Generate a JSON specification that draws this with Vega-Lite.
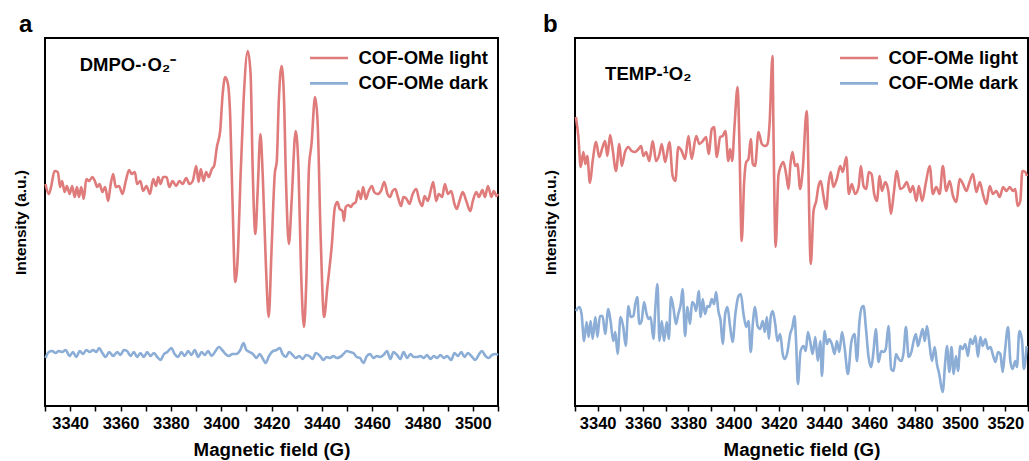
{
  "$schema": "https://vega.github.io/schema/vega-lite/v6.json",
  "background": "white",
  "padding": {"left": 12, "top": 12, "right": 0, "bottom": 0},
  "config": {
    "font": "Liberation Sans",
    "view": {"stroke": "black", "strokeWidth": 2},
    "axisY": {"labels": false, "ticks": false, "domain": false, "grid": false, "titleFontSize": 15.5, "titleFontWeight": "bold", "titleColor": "black", "titlePadding": 17},
    "axisX": {"labelExpr": "datum.value % 20 == 0 ? format(datum.value, 'd') : ''", "labelOverlap": false, "tickCount": 100, "tickSize": 5, "tickWidth": 1.5, "tickColor": "black", "domain": false, "grid": false, "labelFontSize": 16.5, "labelFontWeight": "bold", "labelColor": "black", "labelPadding": 4, "labelFlush": false, "titleFontSize": 18.7, "titleFontWeight": "bold", "titleColor": "black", "titlePadding": 9},
    "legend": {"orient": "top-right", "title": null, "symbolType": "M-2,0H2", "symbolSize": 361, "symbolStrokeWidth": 2.6, "labelFontSize": 18.5, "labelFontWeight": "bold", "labelColor": "black", "labelOffset": 18.5, "rowPadding": 4.4, "offset": 9, "padding": 0},
    "title": {"anchor": "start", "frame": "group", "fontSize": 24, "fontWeight": "bold", "color": "black", "offset": 1, "baseline": "alphabetic"}
  },
  "spacing": 77,
  "bounds": "flush",
  "resolve": {"scale": {"color": "independent", "x": "independent", "y": "independent"}, "legend": {"color": "independent"}},
  "datasets": {
    "aLight": [
      {"x":3330.2,"y":222},{"x":3331.5,"y":212},{"x":3332.4,"y":219},{"x":3333.8,"y":235},{"x":3335.1,"y":234},{"x":3336.0,"y":219},{"x":3336.8,"y":225},{"x":3337.8,"y":214},{"x":3338.7,"y":220},{"x":3339.8,"y":212},{"x":3340.8,"y":220},{"x":3341.8,"y":209},{"x":3342.7,"y":219},{"x":3343.5,"y":209},{"x":3344.4,"y":219},{"x":3345.4,"y":207},{"x":3346.4,"y":227},{"x":3347.5,"y":225},{"x":3348.8,"y":229},{"x":3349.8,"y":225},{"x":3350.7,"y":219},{"x":3351.7,"y":222},{"x":3352.8,"y":214},{"x":3353.9,"y":219},{"x":3355.1,"y":205},{"x":3356.0,"y":220},{"x":3357.1,"y":232},{"x":3358.1,"y":219},{"x":3359.4,"y":220},{"x":3360.8,"y":212},{"x":3362.1,"y":225},{"x":3363.4,"y":236},{"x":3364.5,"y":232},{"x":3365.7,"y":234},{"x":3366.6,"y":222},{"x":3367.9,"y":225},{"x":3369.0,"y":215},{"x":3370.3,"y":220},{"x":3371.7,"y":212},{"x":3373.0,"y":227},{"x":3374.1,"y":220},{"x":3375.0,"y":229},{"x":3375.9,"y":222},{"x":3377.0,"y":229},{"x":3378.3,"y":229},{"x":3379.4,"y":219},{"x":3380.7,"y":225},{"x":3382.1,"y":220},{"x":3383.4,"y":225},{"x":3384.7,"y":222},{"x":3386.1,"y":228},{"x":3387.4,"y":222},{"x":3388.7,"y":225},{"x":3390.1,"y":240},{"x":3391.0,"y":224},{"x":3391.9,"y":237},{"x":3393.0,"y":225},{"x":3394.0,"y":234},{"x":3395.1,"y":229},{"x":3396.3,"y":237},{"x":3397.2,"y":240},
      {"x":3398.3,"y":259},{"x":3399.6,"y":275},{"x":3400.6,"y":312},{"x":3401.6,"y":329},{"x":3402.7,"y":322},{"x":3403.6,"y":289},{"x":3404.5,"y":205},{"x":3405.6,"y":124},{"x":3406.7,"y":155},{"x":3407.6,"y":222},{"x":3408.9,"y":305},{"x":3410.6,"y":355},{"x":3411.7,"y":332},{"x":3412.5,"y":239},{"x":3413.6,"y":172},{"x":3414.5,"y":215},{"x":3415.6,"y":272},{"x":3416.5,"y":232},{"x":3417.8,"y":139},{"x":3418.9,"y":89},{"x":3420.0,"y":155},{"x":3421.3,"y":232},{"x":3422.1,"y":245},{"x":3422.9,"y":305},{"x":3424.0,"y":340},{"x":3424.9,"y":312},{"x":3425.8,"y":222},{"x":3426.9,"y":162},{"x":3428.0,"y":205},{"x":3429.6,"y":275},{"x":3430.7,"y":239},{"x":3431.7,"y":139},{"x":3432.9,"y":79},{"x":3433.8,"y":122},{"x":3434.9,"y":239},{"x":3435.9,"y":262},{"x":3437.3,"y":309},{"x":3438.3,"y":285},{"x":3439.5,"y":172},{"x":3440.9,"y":89},{"x":3442.2,"y":119},{"x":3443.9,"y":159},
      {"x":3445.2,"y":199},{"x":3446.2,"y":204},{"x":3447.1,"y":197},{"x":3448.2,"y":195},{"x":3448.8,"y":185},{"x":3449.5,"y":199},{"x":3450.6,"y":201},{"x":3451.5,"y":199},{"x":3452.4,"y":202},{"x":3453.5,"y":204},{"x":3454.5,"y":215},{"x":3455.5,"y":207},{"x":3456.4,"y":219},{"x":3457.5,"y":207},{"x":3458.5,"y":214},{"x":3459.9,"y":220},{"x":3460.8,"y":214},{"x":3462.1,"y":212},{"x":3463.5,"y":215},{"x":3464.8,"y":224},{"x":3466.1,"y":212},{"x":3467.1,"y":209},{"x":3468.1,"y":215},{"x":3469.2,"y":217},{"x":3470.1,"y":210},{"x":3471.5,"y":200},{"x":3472.4,"y":209},{"x":3473.7,"y":207},{"x":3474.8,"y":202},{"x":3476.1,"y":212},{"x":3477.5,"y":217},{"x":3478.8,"y":205},{"x":3479.9,"y":200},{"x":3480.8,"y":210},{"x":3482.1,"y":205},{"x":3483.4,"y":217},{"x":3484.3,"y":224},{"x":3485.4,"y":205},{"x":3486.5,"y":212},{"x":3487.8,"y":209},{"x":3488.9,"y":222},{"x":3490.1,"y":212},{"x":3491.4,"y":215},{"x":3492.7,"y":202},{"x":3493.6,"y":197},{"x":3494.7,"y":205},{"x":3496.0,"y":214},{"x":3497.4,"y":205},{"x":3499.0,"y":195},{"x":3500.0,"y":205},{"x":3501.4,"y":214},{"x":3502.4,"y":209},{"x":3503.8,"y":216},{"x":3504.8,"y":209},{"x":3506.0,"y":220},{"x":3507.4,"y":209},{"x":3508.3,"y":215},{"x":3509.4,"y":210},{"x":3510.0,"y":212}
    ],
    "aDark": [
      {"x":3330.2,"y":48},{"x":3331.5,"y":54},{"x":3332.8,"y":55},{"x":3334.2,"y":53},{"x":3335.5,"y":55},{"x":3336.8,"y":54},{"x":3338.2,"y":56},{"x":3339.8,"y":50},{"x":3341.1,"y":54},{"x":3342.4,"y":49},{"x":3343.8,"y":55},{"x":3345.1,"y":52},{"x":3346.4,"y":56},{"x":3347.8,"y":54},{"x":3349.1,"y":56},{"x":3350.4,"y":54},{"x":3351.5,"y":58},{"x":3352.8,"y":53},{"x":3354.1,"y":49},{"x":3355.5,"y":54},{"x":3357.1,"y":50},{"x":3358.7,"y":54},{"x":3360.0,"y":51},{"x":3361.3,"y":56},{"x":3362.6,"y":55},{"x":3364.0,"y":50},{"x":3365.3,"y":54},{"x":3366.6,"y":49},{"x":3367.9,"y":53},{"x":3369.3,"y":49},{"x":3370.6,"y":54},{"x":3371.9,"y":50},{"x":3373.3,"y":53},{"x":3374.6,"y":49},{"x":3375.9,"y":46},{"x":3377.3,"y":52},{"x":3378.6,"y":54},{"x":3380.2,"y":58},{"x":3381.5,"y":52},{"x":3382.9,"y":49},{"x":3384.2,"y":54},{"x":3385.5,"y":50},{"x":3386.9,"y":55},{"x":3388.2,"y":51},{"x":3389.5,"y":56},{"x":3390.9,"y":49},{"x":3392.2,"y":54},{"x":3393.5,"y":51},{"x":3394.8,"y":55},{"x":3396.2,"y":50},{"x":3397.5,"y":54},{"x":3399.1,"y":59},{"x":3400.4,"y":56},{"x":3401.7,"y":52},{"x":3403.1,"y":50},{"x":3404.4,"y":52},{"x":3406.0,"y":52},{"x":3407.6,"y":56},{"x":3408.9,"y":63},{"x":3410.0,"y":56},{"x":3411.3,"y":54},{"x":3412.6,"y":52},{"x":3414.0,"y":48},{"x":3415.3,"y":52},{"x":3416.6,"y":47},{"x":3417.7,"y":43},{"x":3419.0,"y":50},{"x":3420.6,"y":55},{"x":3422.0,"y":56},{"x":3423.3,"y":58},{"x":3424.4,"y":52},{"x":3425.7,"y":49},{"x":3427.0,"y":54},{"x":3428.4,"y":51},{"x":3429.7,"y":48},{"x":3431.0,"y":50},{"x":3432.4,"y":47},{"x":3433.7,"y":51},{"x":3435.0,"y":50},{"x":3436.3,"y":47},{"x":3437.6,"y":53},{"x":3439.3,"y":50},{"x":3440.6,"y":46},{"x":3441.9,"y":49},{"x":3443.3,"y":48},{"x":3444.6,"y":50},{"x":3445.9,"y":48},{"x":3447.2,"y":49},{"x":3448.6,"y":52},{"x":3449.9,"y":55},{"x":3451.2,"y":54},{"x":3452.5,"y":53},{"x":3453.9,"y":49},{"x":3455.2,"y":48},{"x":3456.5,"y":43},{"x":3457.9,"y":50},{"x":3459.2,"y":52},{"x":3460.5,"y":48},{"x":3461.9,"y":50},{"x":3463.2,"y":49},{"x":3464.5,"y":51},{"x":3465.9,"y":55},{"x":3467.2,"y":47},{"x":3468.5,"y":54},{"x":3469.9,"y":51},{"x":3471.2,"y":47},{"x":3472.5,"y":54},{"x":3473.9,"y":48},{"x":3475.2,"y":52},{"x":3476.5,"y":49},{"x":3477.9,"y":49},{"x":3479.2,"y":50},{"x":3480.5,"y":48},{"x":3481.8,"y":51},{"x":3483.2,"y":47},{"x":3484.5,"y":50},{"x":3485.8,"y":48},{"x":3487.1,"y":51},{"x":3488.5,"y":48},{"x":3489.8,"y":50},{"x":3491.4,"y":46},{"x":3492.7,"y":53},{"x":3494.1,"y":50},{"x":3495.4,"y":54},{"x":3496.7,"y":49},{"x":3498.0,"y":53},{"x":3499.4,"y":50},{"x":3501.0,"y":46},{"x":3502.3,"y":51},{"x":3503.6,"y":55},{"x":3505.0,"y":50},{"x":3506.3,"y":48},{"x":3507.6,"y":51},{"x":3509.0,"y":52},{"x":3510.0,"y":51}
    ],
    "bLight": [
      {"x":3330.4,"y":289},{"x":3331.5,"y":269},{"x":3332.5,"y":239},{"x":3333.7,"y":254},{"x":3334.6,"y":242},{"x":3335.4,"y":250},{"x":3336.6,"y":223},{"x":3337.8,"y":245},{"x":3339.3,"y":264},{"x":3340.7,"y":249},{"x":3342.2,"y":259},{"x":3343.3,"y":265},{"x":3344.3,"y":250},{"x":3345.5,"y":271},{"x":3346.6,"y":257},{"x":3348.1,"y":235},{"x":3349.6,"y":262},{"x":3350.6,"y":240},{"x":3352.1,"y":254},{"x":3353.6,"y":259},{"x":3355.0,"y":255},{"x":3356.5,"y":254},{"x":3358.0,"y":257},{"x":3359.2,"y":260},{"x":3360.2,"y":250},{"x":3361.4,"y":254},{"x":3362.8,"y":245},{"x":3364.3,"y":265},{"x":3365.8,"y":245},{"x":3367.3,"y":252},{"x":3368.3,"y":262},{"x":3369.8,"y":244},{"x":3371.7,"y":264},{"x":3373.1,"y":230},{"x":3374.3,"y":225},{"x":3375.6,"y":259},{"x":3377.1,"y":255},{"x":3378.6,"y":247},{"x":3380.1,"y":270},{"x":3381.5,"y":247},{"x":3383.5,"y":270},{"x":3384.9,"y":262},{"x":3386.4,"y":265},{"x":3387.9,"y":269},{"x":3389.0,"y":252},{"x":3390.4,"y":277},{"x":3391.4,"y":279},{"x":3392.6,"y":249},{"x":3394.1,"y":269},{"x":3395.2,"y":270},{"x":3396.4,"y":275},{"x":3397.7,"y":245},{"x":3398.5,"y":257},{"x":3399.4,"y":245},{"x":3400.4,"y":279},{"x":3401.8,"y":319},{"x":3402.6,"y":262},{"x":3403.6,"y":165},{"x":3404.7,"y":225},{"x":3405.6,"y":244},{"x":3406.6,"y":247},{"x":3407.6,"y":267},{"x":3408.5,"y":242},{"x":3409.5,"y":240},{"x":3411.0,"y":274},{"x":3412.5,"y":262},{"x":3414.0,"y":260},{"x":3415.0,"y":262},{"x":3415.9,"y":282},{"x":3417.2,"y":350},{"x":3417.6,"y":279},{"x":3418.6,"y":159},{"x":3419.8,"y":230},{"x":3420.9,"y":240},{"x":3422.0,"y":244},{"x":3423.2,"y":232},{"x":3424.3,"y":217},{"x":3425.0,"y":239},{"x":3426.0,"y":254},{"x":3427.2,"y":240},{"x":3428.2,"y":242},{"x":3429.4,"y":217},{"x":3430.5,"y":235},{"x":3432.3,"y":295},{"x":3434.1,"y":142},{"x":3435.3,"y":195},{"x":3436.5,"y":205},{"x":3437.5,"y":220},{"x":3438.5,"y":225},{"x":3439.7,"y":210},{"x":3440.9,"y":197},{"x":3441.9,"y":222},{"x":3442.9,"y":234},{"x":3444.1,"y":219},{"x":3445.6,"y":227},{"x":3447.1,"y":240},{"x":3448.2,"y":234},{"x":3449.8,"y":249},{"x":3450.9,"y":212},{"x":3452.2,"y":222},{"x":3453.7,"y":212},{"x":3455.2,"y":219},{"x":3456.2,"y":240},{"x":3457.4,"y":220},{"x":3458.6,"y":217},{"x":3459.7,"y":234},{"x":3460.9,"y":232},{"x":3462.1,"y":212},{"x":3463.3,"y":205},{"x":3464.5,"y":230},{"x":3465.5,"y":215},{"x":3467.0,"y":224},{"x":3468.4,"y":214},{"x":3469.5,"y":192},{"x":3470.7,"y":212},{"x":3472.1,"y":235},{"x":3473.6,"y":217},{"x":3475.1,"y":219},{"x":3476.5,"y":224},{"x":3478.0,"y":214},{"x":3479.2,"y":220},{"x":3480.7,"y":205},{"x":3481.8,"y":220},{"x":3483.3,"y":205},{"x":3484.8,"y":222},{"x":3486.6,"y":240},{"x":3488.0,"y":212},{"x":3489.5,"y":219},{"x":3491.0,"y":212},{"x":3492.4,"y":240},{"x":3493.9,"y":215},{"x":3495.4,"y":225},{"x":3496.9,"y":210},{"x":3498.4,"y":204},{"x":3499.8,"y":227},{"x":3501.3,"y":222},{"x":3502.8,"y":215},{"x":3504.2,"y":224},{"x":3505.7,"y":232},{"x":3507.2,"y":214},{"x":3508.7,"y":224},{"x":3510.1,"y":212},{"x":3511.6,"y":202},{"x":3513.1,"y":220},{"x":3514.5,"y":212},{"x":3516.0,"y":215},{"x":3517.5,"y":209},{"x":3519.0,"y":219},{"x":3520.5,"y":215},{"x":3521.9,"y":219},{"x":3523.4,"y":215},{"x":3524.4,"y":217},{"x":3525.4,"y":200},{"x":3526.6,"y":205},{"x":3527.5,"y":235},{"x":3528.8,"y":234},{"x":3529.5,"y":230}
    ],
    "bDark": [
      {"x":3330.4,"y":95},{"x":3331.9,"y":99},{"x":3332.9,"y":92},{"x":3334.0,"y":65},{"x":3335.1,"y":84},{"x":3336.0,"y":69},{"x":3336.9,"y":85},{"x":3337.8,"y":67},{"x":3339.0,"y":89},{"x":3339.9,"y":69},{"x":3341.0,"y":90},{"x":3342.2,"y":90},{"x":3343.3,"y":72},{"x":3344.7,"y":97},{"x":3345.7,"y":85},{"x":3346.9,"y":65},{"x":3347.8,"y":74},{"x":3348.8,"y":52},{"x":3350.1,"y":89},{"x":3351.3,"y":79},{"x":3352.4,"y":60},{"x":3353.6,"y":100},{"x":3354.6,"y":89},{"x":3355.8,"y":90},{"x":3356.6,"y":102},{"x":3357.5,"y":109},{"x":3358.4,"y":82},{"x":3359.4,"y":85},{"x":3360.5,"y":104},{"x":3361.6,"y":92},{"x":3362.5,"y":87},{"x":3363.4,"y":89},{"x":3364.6,"y":67},{"x":3365.5,"y":99},{"x":3366.4,"y":122},{"x":3367.3,"y":65},{"x":3368.3,"y":85},{"x":3369.3,"y":65},{"x":3370.5,"y":84},{"x":3371.4,"y":67},{"x":3372.4,"y":109},{"x":3373.4,"y":99},{"x":3374.6,"y":82},{"x":3375.6,"y":92},{"x":3376.7,"y":102},{"x":3377.5,"y":117},{"x":3378.6,"y":70},{"x":3379.6,"y":99},{"x":3380.8,"y":82},{"x":3381.7,"y":104},{"x":3382.6,"y":102},{"x":3383.5,"y":95},{"x":3384.6,"y":115},{"x":3385.5,"y":89},{"x":3386.4,"y":107},{"x":3387.4,"y":92},{"x":3388.5,"y":100},{"x":3389.3,"y":99},{"x":3390.4,"y":107},{"x":3391.4,"y":102},{"x":3392.3,"y":114},{"x":3393.3,"y":95},{"x":3394.3,"y":85},{"x":3395.2,"y":62},{"x":3396.3,"y":92},{"x":3397.3,"y":99},{"x":3398.5,"y":79},{"x":3399.6,"y":64},{"x":3400.8,"y":92},{"x":3402.2,"y":110},{"x":3403.2,"y":112},{"x":3404.4,"y":92},{"x":3405.6,"y":79},{"x":3406.6,"y":85},{"x":3407.6,"y":54},{"x":3408.5,"y":82},{"x":3409.5,"y":99},{"x":3410.6,"y":80},{"x":3411.7,"y":77},{"x":3412.9,"y":85},{"x":3413.8,"y":74},{"x":3414.7,"y":89},{"x":3415.6,"y":67},{"x":3416.4,"y":89},{"x":3417.3,"y":95},{"x":3418.4,"y":82},{"x":3419.4,"y":65},{"x":3420.6,"y":72},{"x":3421.7,"y":52},{"x":3422.6,"y":47},{"x":3423.8,"y":54},{"x":3425.0,"y":72},{"x":3426.0,"y":79},{"x":3426.9,"y":90},{"x":3427.6,"y":65},{"x":3428.4,"y":22},{"x":3429.6,"y":55},{"x":3430.9,"y":60},{"x":3431.9,"y":55},{"x":3432.8,"y":74},{"x":3433.8,"y":65},{"x":3434.9,"y":52},{"x":3436.1,"y":69},{"x":3437.2,"y":45},{"x":3438.3,"y":65},{"x":3439.0,"y":30},{"x":3440.2,"y":75},{"x":3441.2,"y":62},{"x":3442.2,"y":67},{"x":3443.4,"y":62},{"x":3444.6,"y":52},{"x":3445.6,"y":65},{"x":3446.7,"y":54},{"x":3447.9,"y":74},{"x":3449.0,"y":59},{"x":3450.5,"y":32},{"x":3452.0,"y":64},{"x":3453.4,"y":72},{"x":3454.5,"y":45},{"x":3455.5,"y":82},{"x":3456.7,"y":99},{"x":3457.4,"y":100},{"x":3458.4,"y":79},{"x":3459.6,"y":49},{"x":3460.8,"y":39},{"x":3461.8,"y":55},{"x":3462.8,"y":77},{"x":3464.0,"y":44},{"x":3465.2,"y":55},{"x":3466.2,"y":54},{"x":3467.2,"y":57},{"x":3468.4,"y":80},{"x":3469.6,"y":37},{"x":3470.7,"y":35},{"x":3471.7,"y":52},{"x":3472.9,"y":47},{"x":3474.1,"y":45},{"x":3475.1,"y":54},{"x":3476.1,"y":79},{"x":3477.3,"y":49},{"x":3478.5,"y":54},{"x":3479.5,"y":65},{"x":3480.5,"y":72},{"x":3481.4,"y":60},{"x":3482.5,"y":69},{"x":3483.5,"y":77},{"x":3484.4,"y":65},{"x":3485.4,"y":80},{"x":3486.4,"y":64},{"x":3487.6,"y":45},{"x":3488.8,"y":59},{"x":3489.8,"y":42},{"x":3490.8,"y":32},{"x":3492.3,"y":14},{"x":3493.5,"y":45},{"x":3494.2,"y":60},{"x":3495.3,"y":34},{"x":3496.2,"y":59},{"x":3497.2,"y":32},{"x":3498.2,"y":50},{"x":3499.1,"y":35},{"x":3500.1,"y":60},{"x":3501.1,"y":57},{"x":3502.3,"y":62},{"x":3503.5,"y":50},{"x":3504.5,"y":67},{"x":3505.6,"y":62},{"x":3506.8,"y":70},{"x":3507.9,"y":49},{"x":3509.0,"y":69},{"x":3510.0,"y":60},{"x":3511.2,"y":67},{"x":3512.3,"y":57},{"x":3513.4,"y":59},{"x":3514.4,"y":52},{"x":3515.6,"y":44},{"x":3516.8,"y":54},{"x":3517.8,"y":52},{"x":3518.8,"y":34},{"x":3519.7,"y":52},{"x":3521.2,"y":79},{"x":3522.2,"y":45},{"x":3523.2,"y":37},{"x":3524.4,"y":45},{"x":3525.1,"y":39},{"x":3526.2,"y":75},{"x":3527.3,"y":67},{"x":3528.2,"y":37},{"x":3529.4,"y":60}
    ]
  },
  "hconcat": [
    {
      "width": 453, "height": 368,
      "title": {"text": "a", "dx": -26},
      "layer": [
        {
          "data": {"name": "aLight"},
          "mark": {"type": "line", "strokeWidth": 2.6, "interpolate": "monotone"},
          "encoding": {
            "x": {"field": "x", "type": "quantitative", "title": "Magnetic field (G)", "scale": {"domain": [3330, 3510], "nice": false, "zero": false}, "axis": {"values": [3330,3340,3350,3360,3370,3380,3390,3400,3410,3420,3430,3440,3450,3460,3470,3480,3490,3500,3510]}},
            "y": {"field": "y", "type": "quantitative", "title": "Intensity (a.u.)", "scale": {"domain": [0, 368], "nice": false, "zero": false}},
            "color": {"datum": "COF-OMe light", "type": "nominal", "scale": {"domain": ["COF-OMe light", "COF-OMe dark"], "range": ["#E07B7B", "#8BADD6"]}}
          }
        },
        {
          "data": {"name": "aDark"},
          "mark": {"type": "line", "strokeWidth": 2.6, "interpolate": "monotone"},
          "encoding": {
            "x": {"field": "x", "type": "quantitative"},
            "y": {"field": "y", "type": "quantitative"},
            "color": {"datum": "COF-OMe dark", "type": "nominal"}
          }
        },
        {
          "data": {"values": [{}]},
          "mark": {"type": "text", "align": "left", "baseline": "alphabetic", "fontSize": 18.5, "fontWeight": "bold", "color": "black"},
          "encoding": {
            "x": {"datum": 3343.8, "type": "quantitative"},
            "y": {"datum": 335.3, "type": "quantitative"},
            "text": {"value": "DMPO-·O₂⁻"}
          }
        }
      ]
    },
    {
      "width": 453, "height": 368,
      "title": {"text": "b", "dx": -32},
      "layer": [
        {
          "data": {"name": "bLight"},
          "mark": {"type": "line", "strokeWidth": 2.6, "interpolate": "monotone"},
          "encoding": {
            "x": {"field": "x", "type": "quantitative", "title": "Magnetic field (G)", "scale": {"domain": [3330, 3530], "nice": false, "zero": false}, "axis": {"values": [3330,3340,3350,3360,3370,3380,3390,3400,3410,3420,3430,3440,3450,3460,3470,3480,3490,3500,3510,3520,3530]}},
            "y": {"field": "y", "type": "quantitative", "title": "Intensity (a.u.)", "scale": {"domain": [0, 368], "nice": false, "zero": false}},
            "color": {"datum": "COF-OMe light", "type": "nominal", "scale": {"domain": ["COF-OMe light", "COF-OMe dark"], "range": ["#E07B7B", "#8BADD6"]}}
          }
        },
        {
          "data": {"name": "bDark"},
          "mark": {"type": "line", "strokeWidth": 2.6, "interpolate": "monotone"},
          "encoding": {
            "x": {"field": "x", "type": "quantitative"},
            "y": {"field": "y", "type": "quantitative"},
            "color": {"datum": "COF-OMe dark", "type": "nominal"}
          }
        },
        {
          "data": {"values": [{}]},
          "mark": {"type": "text", "align": "left", "baseline": "alphabetic", "fontSize": 18.5, "fontWeight": "bold", "color": "black"},
          "encoding": {
            "x": {"datum": 3343.3, "type": "quantitative"},
            "y": {"datum": 326, "type": "quantitative"},
            "text": {"value": "TEMP-¹O₂"}
          }
        }
      ]
    }
  ]
}
